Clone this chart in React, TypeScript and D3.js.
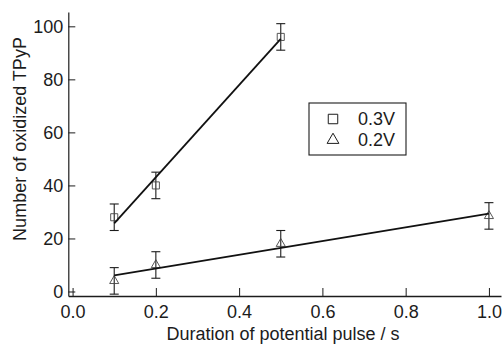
import React, { useRef, useEffect } from 'react';
import * as d3 from 'd3';

// 0.3 V series
const duration03 = [0.1, 0.2, 0.5];
const oxidized03 = [28, 40, 96];
const error03 = [5, 5, 5];

// 0.2 V series
const duration02 = [0.1, 0.2, 0.5, 1.0];
const oxidized02 = [4, 10, 18, 28.5];
const error02 = [5, 5, 5, 5];

const xTicks = [0, 0.2, 0.4, 0.6, 0.8, 1.0];
const yTicks = [0, 20, 40, 60, 80, 100];
const legendLabels = ['0.3V', '0.2V'];

const ink = '#1c1c1c';
const font = '"Liberation Sans", Arial, sans-serif';

const linearFit = (xs: number[], ys: number[]) => {
  const mx = d3.mean(xs)!;
  const my = d3.mean(ys)!;
  const sxy = d3.sum(xs, (x, i) => (x - mx) * (ys[i] - my));
  const sxx = d3.sum(xs, x => (x - mx) ** 2);
  const slope = sxy / sxx;
  return (x: number) => my + slope * (x - mx);
};

const App: React.FC = () => {
  const svgRef = useRef<SVGSVGElement>(null);
  const width = 502;
  const height = 344;

  useEffect(() => {
    if (!svgRef.current) return;
    const svg = d3.select(svgRef.current);
    svg.selectAll('*').remove();

    const x = d3.scaleLinear().domain([-0.0103, 1.029]).range([68.3, 501]);
    const y = d3.scaleLinear().domain([-1.7, 105.4]).range([296, 12]);

    // X axis
    const xAxis = svg.append('g')
      .attr('transform', `translate(0,${y(-1.7)})`)
      .call(d3.axisBottom(x).tickValues(xTicks).tickFormat(d3.format('.1f'))
        .tickSizeInner(-8).tickSizeOuter(0).tickPadding(9));
    xAxis.select('.domain').attr('stroke', ink).attr('stroke-width', 1.4);
    xAxis.selectAll('.tick line').attr('stroke', ink).attr('stroke-width', 1);
    xAxis.selectAll('.tick text')
      .attr('font-family', font).attr('font-size', 18).attr('fill', ink);

    // Y axis
    const yAxis = svg.append('g')
      .attr('transform', `translate(${x(-0.0103)},0)`)
      .call(d3.axisLeft(y).tickValues(yTicks).tickFormat(d3.format('d'))
        .tickSizeInner(-7).tickSizeOuter(0).tickPadding(5));
    yAxis.select('.domain').attr('stroke', ink).attr('stroke-width', 1.2);
    yAxis.selectAll('.tick line').attr('stroke', ink).attr('stroke-width', 1);
    yAxis.selectAll('.tick text')
      .attr('font-family', font).attr('font-size', 18).attr('fill', ink);

    // Axis titles
    svg.append('text')
      .attr('x', 283)
      .attr('y', 340)
      .attr('text-anchor', 'middle')
      .attr('font-family', font)
      .attr('font-size', 18)
      .attr('fill', ink)
      .text('Duration of potential pulse / s');

    svg.append('text')
      .attr('transform', 'translate(26,139) rotate(-90)')
      .attr('text-anchor', 'middle')
      .attr('font-family', font)
      .attr('font-size', 18)
      .attr('fill', ink)
      .text('Number of oxidized TPyP');

    const square = d3.symbol().type(d3.symbolSquare);
    const triangle = d3.symbol().type(d3.symbolTriangle);

    const series = [
      { xs: duration03, ys: oxidized03, err: error03, shape: square.size(50) },
      { xs: duration02, ys: oxidized02, err: error02, shape: triangle.size(36) }
    ];

    series.forEach(s => {
      const fit = linearFit(s.xs, s.ys);
      const x0 = d3.min(s.xs)!;
      const x1 = d3.max(s.xs)!;

      // Error bars
      s.xs.forEach((xv, i) => {
        const cx = x(xv);
        const top = y(s.ys[i] + s.err[i]);
        const bot = y(s.ys[i] - s.err[i]);
        const eb = svg.append('g').attr('stroke', ink).attr('stroke-width', 1.1);
        eb.append('line').attr('x1', cx).attr('x2', cx).attr('y1', top).attr('y2', bot);
        eb.append('line').attr('x1', cx - 4.5).attr('x2', cx + 4.5).attr('y1', top).attr('y2', top);
        eb.append('line').attr('x1', cx - 4.5).attr('x2', cx + 4.5).attr('y1', bot).attr('y2', bot);
      });

      // Markers
      s.xs.forEach((xv, i) => {
        svg.append('path')
          .attr('d', s.shape()!)
          .attr('transform', `translate(${x(xv)},${y(s.ys[i])})`)
          .attr('fill', 'none')
          .attr('stroke', '#444')
          .attr('stroke-width', 0.9);
      });

      // Fitted line
      svg.append('line')
        .attr('x1', x(x0)).attr('y1', y(fit(x0)))
        .attr('x2', x(x1)).attr('y2', y(fit(x1)))
        .attr('stroke', '#111')
        .attr('stroke-width', 1.8);
    });

    // Legend
    const legend = svg.append('g');
    legend.append('rect')
      .attr('x', 309).attr('y', 103)
      .attr('width', 97).attr('height', 52)
      .attr('fill', 'white')
      .attr('stroke', ink)
      .attr('stroke-width', 1.1);

    const legendShapes = [square.size(90), triangle.size(60)];
    legendLabels.forEach((label, i) => {
      const ly = 119 + i * 21;
      legend.append('path')
        .attr('d', legendShapes[i]()!)
        .attr('transform', `translate(333,${ly})`)
        .attr('fill', 'none')
        .attr('stroke', ink)
        .attr('stroke-width', 1);
      legend.append('text')
        .attr('x', 358)
        .attr('y', ly + 6)
        .attr('font-family', font)
        .attr('font-size', 18)
        .attr('fill', ink)
        .text(label);
    });
  }, []);

  return (
    <svg
      ref={svgRef}
      width={width}
      height={height}
      style={{ position: 'absolute', left: 0, top: 0, background: 'white' }}
    />
  );
};

export default App;
